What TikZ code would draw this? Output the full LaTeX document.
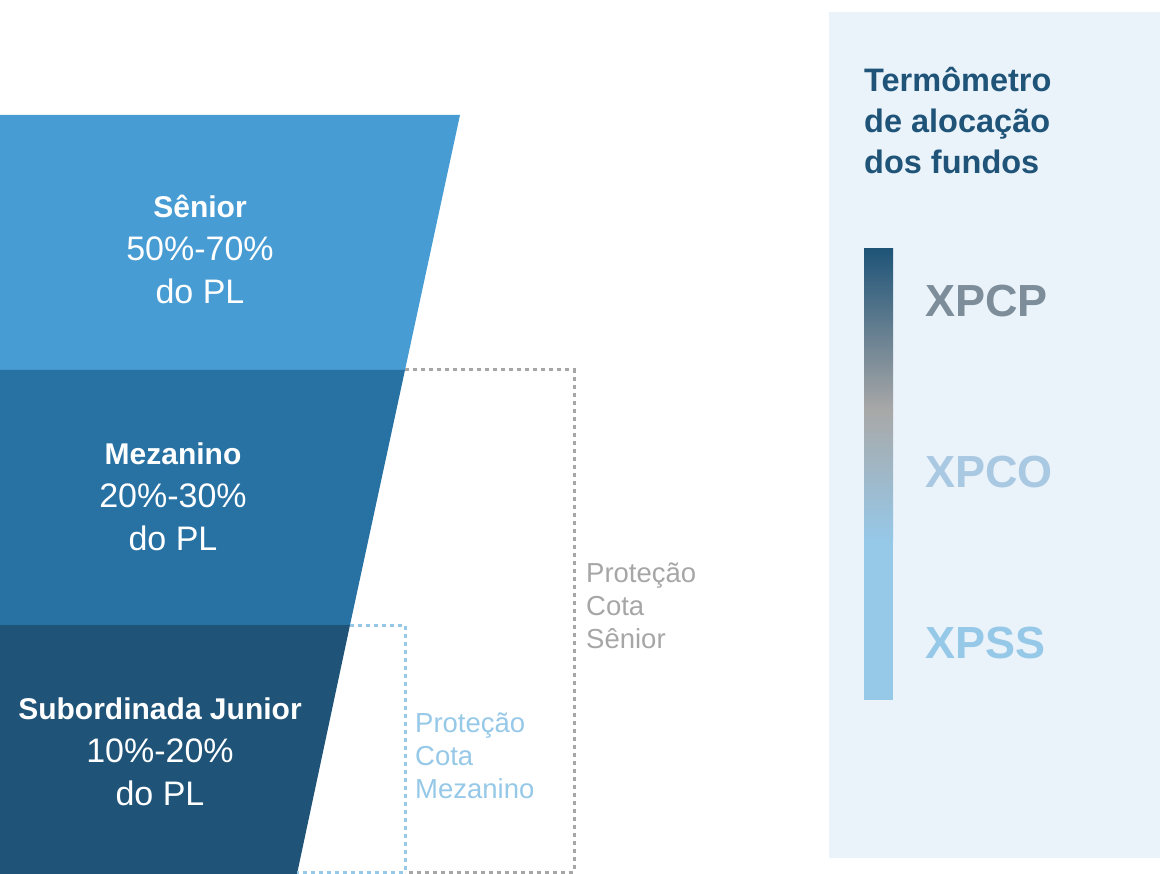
\documentclass[tikz,border=0pt]{standalone}
\usepackage{fontspec}
\setmainfont{Liberation Sans}
\definecolor{senior}{HTML}{489CD4}
\definecolor{mezan}{HTML}{2771A3}
\definecolor{subjr}{HTML}{1F5478}
\definecolor{panel}{HTML}{EAF2FA}
\definecolor{protgray}{HTML}{A6A6A6}
\definecolor{protblue}{HTML}{96C8E8}
\definecolor{xpcp}{HTML}{7D8D9A}
\definecolor{xpco}{HTML}{A9C8E2}
\definecolor{midgray}{HTML}{A8A8A8}
\def\tname#1{{\fontsize{30}{43}\selectfont\bfseries #1}}

\begin{document}
\begin{tikzpicture}[x=1pt, y=-1pt,
		tranche/.style={text=white, align=center, inner sep=0pt, font=\fontsize{34}{43}\selectfont},
		prot/.style={anchor=west, align=left, inner sep=0pt, font=\fontsize{27.5}{33}\selectfont},
		fund/.style={anchor=west, inner sep=0pt, font=\fontsize{45}{54}\selectfont\bfseries},
		dots/.style={line width=3pt, dash pattern=on 4pt off 4pt}]
		\useasboundingbox (0,0) rectangle (1160,874);

		\fill[senior] (0,115) -- (460,115) -- (405,370) -- (0,370) -- cycle;
		\fill[mezan]  (0,370) -- (405,370) -- (350,625) -- (0,625) -- cycle;
		\fill[subjr]  (0,625) -- (350,625) -- (297,874) -- (0,874) -- cycle;

		\node[tranche] (Sen) at (200,249) {\tname{Sênior}\\50\%-70\%\\do PL};
		\node[tranche] (Mez) at (173,497) {\tname{Mezanino}\\20\%-30\%\\do PL};
		\node[tranche] (Sub) at (160,752) {\tname{Subordinada Junior}\\10\%-20\%\\do PL};

		\draw[dots, protgray] (405,370) -- (574,370) -- (574,872) -- (405,872);
		\draw[dots, protblue] (350,625) -- (405,625) -- (405,872) -- (297,872);

		\node[prot, text=protgray] (PS) at (586,606) {Proteção\\Cota\\Sênior};
		\node[prot, text=protblue] (PM) at (415,756) {Proteção\\Cota\\Mezanino};

		\fill[panel] (829,12) rectangle (1160,858);
		\node[anchor=west, align=left, inner sep=0pt, text=subjr,
			font=\fontsize{32.5}{41}\selectfont\bfseries] (Ttl) at (864,121)
			{Termômetro\\de alocação\\dos fundos};

		\shade[top color=subjr, bottom color=midgray] (864,249) rectangle (893,410.5);
		\shade[top color=midgray, bottom color=protblue] (864,410) rectangle (893,540.5);
		\fill[protblue] (864,540) rectangle (893,700);

		\node[fund, text=xpcp]      (XPCP) at (925,301) {XPCP};
		\node[fund, text=xpco]      (XPCO) at (925,472) {XPCO};
		\node[fund, text=protblue]  (XPSS) at (925,643) {XPSS};
	\end{tikzpicture}
\end{document}
